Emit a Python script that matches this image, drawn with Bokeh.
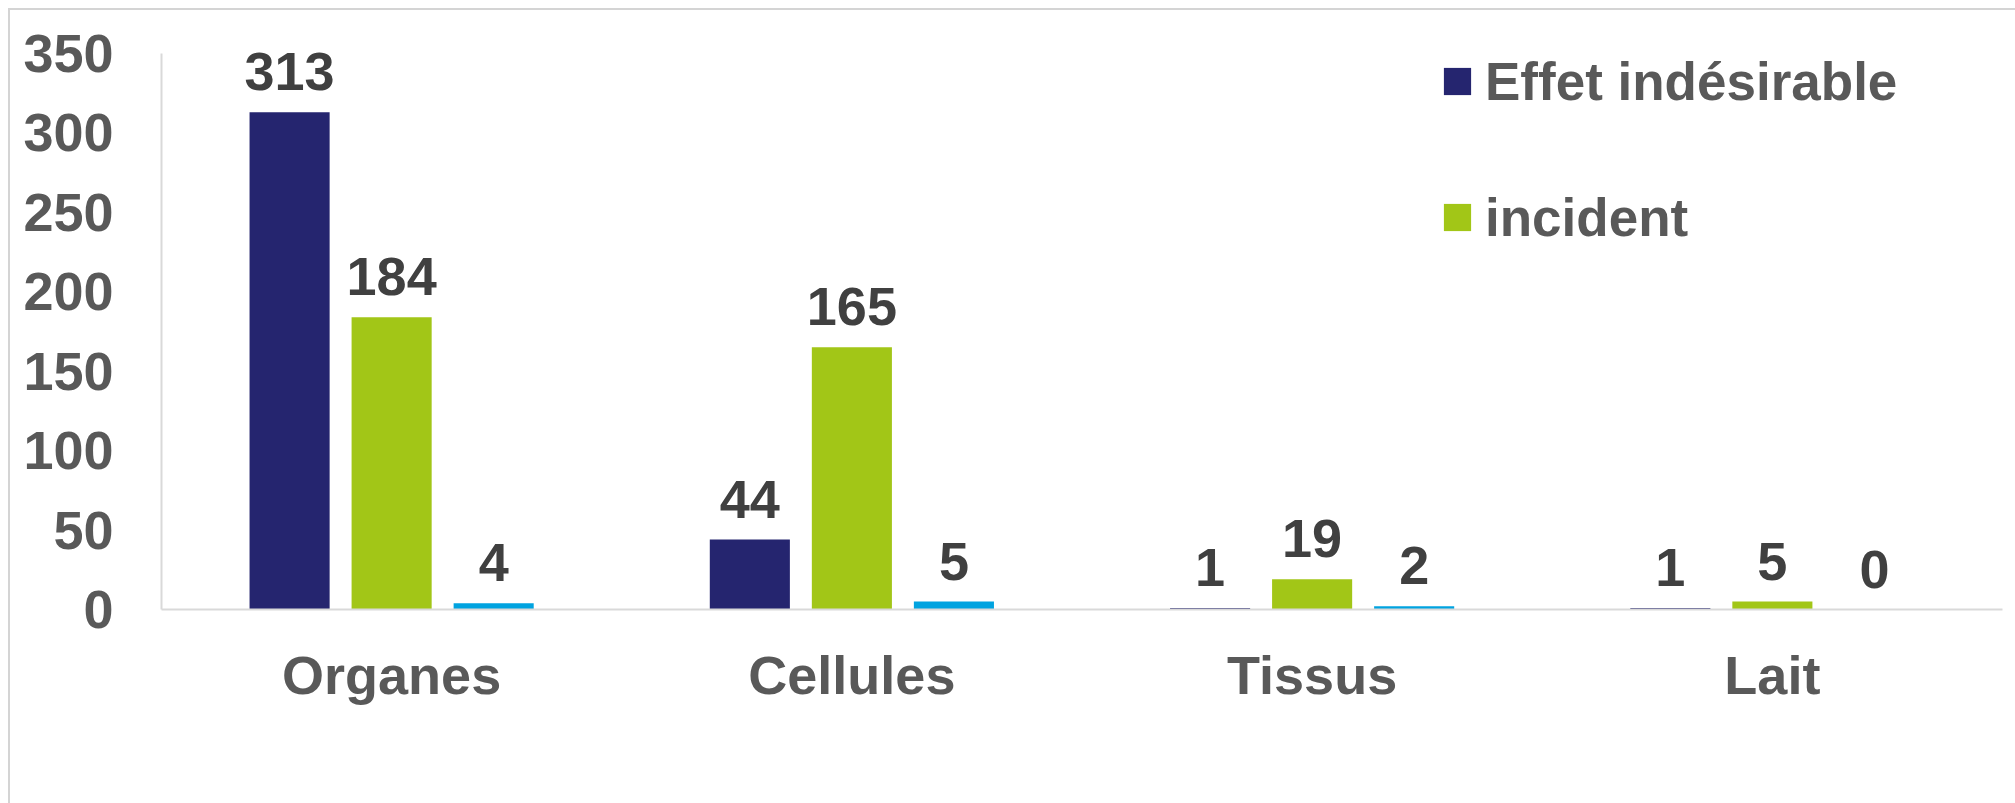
from bokeh.plotting import figure
from bokeh.models import (FactorRange, Range1d, ColumnDataSource, FixedTicker,
                          Legend, LegendItem, LabelSet)
from bokeh.transform import dodge
from bokeh.core.properties import value
from bokeh.embed import file_html
from bokeh.resources import INLINE

# ---- data ----
categories = ["Organes", "Cellules", "Tissus", "Lait"]
effet_indesirable = [313, 44, 1, 1]
incident = [184, 165, 19, 5]
autre = [4, 5, 2, 0]
series_names = ["Effet indésirable", "incident"]
y_ticks = [0, 50, 100, 150, 200, 250, 300, 350]

colors = ["#25256F", "#A2C617", "#00A3E0"]

src = ColumnDataSource(dict(
    cat=categories,
    effet=effet_indesirable,
    incident=incident,
    autre=autre,
    effet_t=[str(v) for v in effet_indesirable],
    incident_t=[str(v) for v in incident],
    autre_t=[str(v) for v in autre],
))

p = figure(
    x_range=FactorRange(*categories),
    y_range=Range1d(0, 360),
    width=2007, height=795,
    output_backend="svg", toolbar_location=None, title=None,
    min_border_left=153, min_border_right=13,
    min_border_top=29, min_border_bottom=194,
)
p.styles = {"margin-left": "8px", "margin-top": "8px",
            "box-shadow": "inset 2px 2px 0 #d4d4d4"}
p.border_fill_color = None
p.background_fill_color = None
p.outline_line_color = None
p.xgrid.grid_line_color = None
p.ygrid.grid_line_color = None

off = 0.2217
bw = 0.174
cols = ["effet", "incident", "autre"]
renderers = []
for i, c in enumerate(cols):
    xs = dodge("cat", (i - 1) * off, range=p.x_range)
    r = p.vbar(x=xs, top=c, width=bw, source=src,
               fill_color=colors[i], line_color=None)
    renderers.append(r)
    p.add_layout(LabelSet(x=xs, y=c, text=c + "_t", source=src,
                          y_offset=22,
                          text_font=value("Liberation Sans"),
                          text_font_style="bold",
                          text_font_size="54px", text_color="#404040",
                          text_align="center", text_baseline="alphabetic"))

# axes
p.yaxis.ticker = FixedTicker(ticks=y_ticks)
p.yaxis.bounds = (0, 350)
for ax in (p.xaxis[0], p.yaxis[0]):
    ax.axis_line_color = "#d9d9d9"
    ax.axis_line_width = 2
    ax.major_tick_line_color = None
    ax.minor_tick_line_color = None
    ax.major_tick_out = 0
    ax.major_tick_in = 0
    ax.minor_tick_out = 0
    ax.major_label_text_font = "Liberation Sans"
    ax.major_label_text_font_style = "bold"
    ax.major_label_text_font_size = "54px"
    ax.major_label_text_color = "#595959"
p.yaxis.major_label_standoff = 48
p.xaxis.major_label_standoff = 35

legend = Legend(
    items=[LegendItem(label=series_names[0], renderers=[renderers[0]]),
           LegendItem(label=series_names[1], renderers=[renderers[1]])],
    location=(1279, 360),
    orientation="vertical",
    glyph_width=34, glyph_height=34,
    label_standoff=11, label_height=64, spacing=72, padding=0, margin=0,
    label_text_font="Liberation Sans", label_text_font_style="bold",
    label_text_font_size="53px", label_text_color="#595959",
    label_text_baseline="middle",
    border_line_color=None, background_fill_color=None,
)
p.add_layout(legend)

open("out.html", "w").write(file_html(p, INLINE))
